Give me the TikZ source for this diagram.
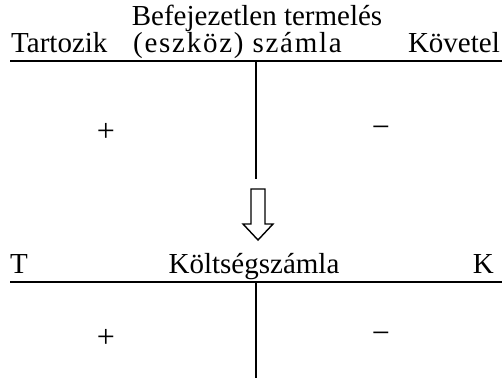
\documentclass[tikz,border=0pt]{standalone}
\usepackage{fontspec}
\setmainfont{Liberation Serif}
\begin{document}
\begin{tikzpicture}[x=1pt,y=-1pt,
  lbl/.style={inner sep=0pt,font=\fontsize{29}{34}\selectfont},
  sign/.style={inner sep=0pt,font=\fontsize{32}{36}\selectfont},
  hline/.style={line width=2.6pt},
  vline/.style={line width=2pt},
  hollowarrow/.style={line width=1.4pt,fill=white,line join=miter}]
\useasboundingbox (0,0) rectangle (502,378);
% top account
\node[lbl,anchor=base] (title1) at (257,25) {Befejezetlen termelés};
\node[lbl,anchor=base west] (t1) at (11,52) {Tartozik};
\node[lbl,anchor=base west] (mid1) at (133,52) {\addfontfeatures{LetterSpace=6}(eszköz) számla};
\node[lbl,anchor=base east] (k1) at (500,52) {Követel};
\coordinate (l1a) at (10,61);
\coordinate (l1b) at (502,61);
\coordinate (v1a) at (256,61);
\coordinate (v1b) at (256,179);
\draw[hline] (l1a) -- (l1b);
\draw[vline] (v1a) -- (v1b);
\node[sign] (p1) at (106,132) {+};
\node[sign] (m1) at (381,132) {−};
% arrow
\draw[hollowarrow] (251,189) -- (265,189) -- (265,224) -- (273,224) -- (258,240) -- (243,224) -- (251,224) -- cycle;
% bottom account
\node[lbl,anchor=base west] (t2) at (10,273) {T};
\node[lbl,anchor=base] (title2) at (254,273) {Költségszámla};
\node[lbl,anchor=base east] (k2) at (494,273) {K};
\coordinate (l2a) at (10,282);
\coordinate (l2b) at (502,282);
\coordinate (v2a) at (256,282);
\coordinate (v2b) at (256,378);
\draw[hline] (l2a) -- (l2b);
\draw[vline] (v2a) -- (v2b);
\node[sign] (p2) at (106,338) {+};
\node[sign] (m2) at (381,338) {−};
\end{tikzpicture}
\end{document}
